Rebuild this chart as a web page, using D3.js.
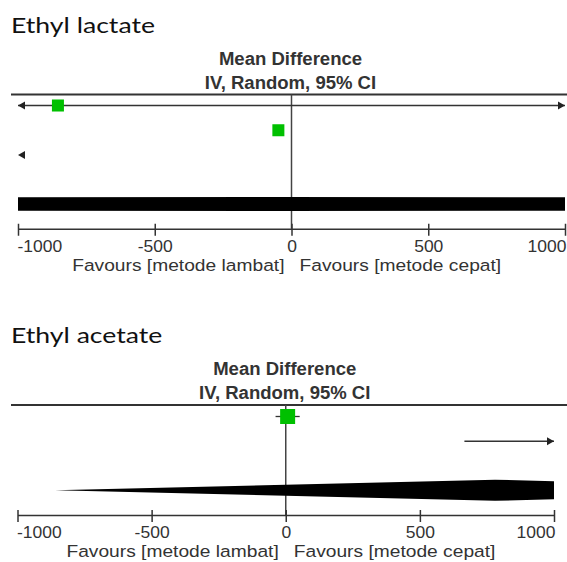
<!DOCTYPE html>
<html>
<head>
<meta charset="utf-8">
<script src="https://cdn.jsdelivr.net/npm/d3@7/dist/d3.min.js"></script>
<style>
  html, body { margin: 0; padding: 0; background: #fff; }
  svg { display: block; }
</style>
</head>
<body>
<svg id="chart" width="567" height="562"></svg>
<script>
// ---------------- DATA ----------------
const tickValues = [-1000, -500, 0, 500, 1000];
const tickLabels = ["-1000", "-500", "0", "500", "1000"];
const favourLeft = "Favours [metode lambat]";
const favourRight = "Favours [metode cepat]";
const headerLine1 = "Mean Difference";
const headerLine2 = "IV, Random, 95% CI";

const lactateTitle = "Ethyl lactate";
const lactateMD     = [-854, -48, -1500];
const lactateLower  = [-3500, -65, -2100];
const lactateUpper  = [1800, -30, -1100];
const lactateWeight = [33.4, 33.3, 33.3];
const lactatePooled = [-40, -30000, 29920];   // estimate, lower, upper

const acetateTitle = "Ethyl acetate";
const acetateMD     = [7, 1500];
const acetateLower  = [-38, 666];
const acetateUpper  = [52, 2334];
const acetateWeight = [52, 48];
const acetatePooled = [780, -860, 2420];      // estimate, lower, upper

// ---------------- LAYOUT ----------------
const panels = [
  { title: lactateTitle, md: lactateMD, lo: lactateLower, hi: lactateUpper, w: lactateWeight, pooled: lactatePooled,
    x0: 18, x1: 565, header: 94.5, row1: 105.5, step: 24.75, diamondHalf: 7 },
  { title: acetateTitle, md: acetateMD, lo: acetateLower, hi: acetateUpper, w: acetateWeight, pooled: acetatePooled,
    x0: 17.5, x1: 554, header: 405, row1: 416.5, step: 24.75, diamondHalf: 10.5 }
];

const svg = d3.select("#chart");
const green = "#00c000";
const arial = "'Liberation Sans', Arial, Helvetica, sans-serif";
const sxArial = 1.1;   // the reference text is horizontally stretched
const sxTitle = 1.21;

function addText(g, x, y, txt, opts) {
  const t = g.append("text")
    .attr("transform", `translate(${x},${y}) scale(${opts.sx || 1},1)`)
    .attr("x", 0).attr("y", 0)
    .attr("text-anchor", opts.anchor || "start")
    .attr("font-family", opts.family || arial)
    .attr("font-size", opts.size || 16)
    .attr("fill", opts.fill || "#333")
    .text(txt);
  if (opts.bold) t.attr("font-weight", "bold");
  return t;
}

panels.forEach((p, pi) => {
  const domain = [tickValues[0], tickValues[tickValues.length - 1]];
  const x = d3.scaleLinear().domain(domain).range([p.x0, p.x1]);
  const n = p.md.length;
  const y = d3.scaleLinear().domain([0, 1]).range([p.row1, p.row1 + p.step]);
  const g = svg.append("g");
  const xc = x(0);

  // Titles
  addText(g, 11, p.header - 62, p.title, { family: "Lato, 'Open Sans', sans-serif", size: 22, fill: "#111", sx: sxTitle });
  addText(g, xc - 1, p.header - 30, headerLine1, { anchor: "middle", size: 17.5, bold: true, sx: 1.06 });
  addText(g, xc - 1, p.header - 6, headerLine2, { anchor: "middle", size: 17.5, bold: true, sx: 1.06 });

  // header line
  g.append("line").attr("x1", 11).attr("x2", 567).attr("y1", p.header).attr("y2", p.header)
    .attr("stroke", "#333").attr("stroke-width", 2);

  const axisY = y(n + 2) - 0.5;

  // zero line
  g.append("line").attr("x1", xc).attr("x2", xc).attr("y1", p.header).attr("y2", axisY)
    .attr("stroke", "#444").attr("stroke-width", 1.5);

  // clip for diamond
  const clipId = "clip" + pi;
  g.append("clipPath").attr("id", clipId).append("rect")
    .attr("x", x(domain[0])).attr("y", p.header).attr("width", x(domain[1]) - x(domain[0]))
    .attr("height", axisY - p.header);

  const arrowHead = (tipX, yy, dir) => {
    const L = 7, H = 4;
    return `M${tipX},${yy} L${tipX - dir * L},${yy - H} L${tipX - dir * L},${yy + H} Z`;
  };

  // studies
  for (let i = 0; i < n; i++) {
    const yy = y(i);
    const lo = p.lo[i], hi = p.hi[i], est = p.md[i];
    if (hi < domain[0]) {
      g.append("path").attr("d", arrowHead(x(domain[0]), yy, -1)).attr("fill", "#222");
      continue;
    }
    if (lo > domain[1]) {
      g.append("path").attr("d", arrowHead(x(domain[1]), yy, 1)).attr("fill", "#222");
      continue;
    }
    const cl = Math.max(lo, domain[0]), ch = Math.min(hi, domain[1]);
    g.append("line").attr("x1", x(cl)).attr("x2", x(ch)).attr("y1", yy).attr("y2", yy)
      .attr("stroke", "#333").attr("stroke-width", 1.3);
    if (lo < domain[0]) g.append("path").attr("d", arrowHead(x(domain[0]), yy, -1)).attr("fill", "#222");
    if (hi > domain[1]) g.append("path").attr("d", arrowHead(x(domain[1]), yy, 1)).attr("fill", "#222");
    if (est >= domain[0] && est <= domain[1]) {
      const s = 2.08 * Math.sqrt(p.w[i]);
      g.append("rect").attr("x", x(est) - s / 2).attr("y", yy - s / 2)
        .attr("width", s).attr("height", s).attr("fill", green);
    }
  }

  // diamond
  const dy = y(n + 1) - 0.5;
  const [pe, pl, ph] = p.pooled;
  const h = p.diamondHalf;
  g.append("path").attr("clip-path", `url(#${clipId})`)
    .attr("d", `M${x(pl)},${dy} L${x(pe)},${dy - h} L${x(ph)},${dy} L${x(pe)},${dy + h} Z`)
    .attr("fill", "#000");

  // axis
  const axis = d3.axisBottom(x).tickValues(tickValues).tickSizeInner(7).tickSizeOuter(0)
    .tickFormat((d, i) => tickLabels[i]);
  const ag = g.append("g").attr("transform", `translate(0,${axisY})`).call(axis);
  ag.select(".domain").attr("stroke", "#333").attr("stroke-width", 1.5);
  ag.selectAll(".tick line").attr("y1", -5).attr("y2", 7).attr("stroke", "#333").attr("stroke-width", 1.5);
  ag.selectAll(".tick text")
    .attr("font-family", arial).attr("font-size", 16.5)
    .attr("fill", "#333").attr("dy", null).attr("y", 0)
    .attr("transform", (d, i) => `translate(${i === 0 ? -1 : (i === tickValues.length - 1 ? 1 : 0)},23) scale(1.06,1)`)
    .attr("text-anchor", (d, i) => i === 0 ? "start" : (i === tickValues.length - 1 ? "end" : "middle"));

  // favours labels
  addText(g, xc - 7, axisY + 42, favourLeft, { anchor: "end", size: 17, sx: 1.13 });
  addText(g, xc + 8, axisY + 42, favourRight, { anchor: "start", size: 17, sx: 1.13 });
});
</script>
</body>
</html>
